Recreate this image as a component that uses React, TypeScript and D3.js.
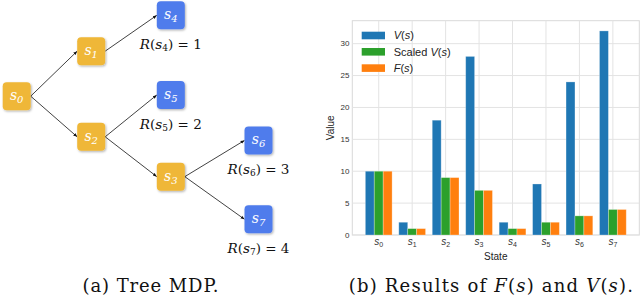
import React from "react";
import * as d3 from "d3";

// bar chart data
const states = ["0", "1", "2", "3", "4", "5", "6", "7"];
const vValues = [10, 2, 18, 28, 2, 8, 24, 32];
const scaledV = [10, 1, 9, 7, 1, 2, 3, 4];
const fValues = [10, 1, 9, 7, 1, 2, 3, 4];
const yTicks = [0, 5, 10, 15, 20, 25, 30];

// tree MDP data
const nodeIds = ["0", "1", "2", "3", "4", "5", "6", "7"];
const nodeDepth = [0, 1, 1, 2, 2, 2, 3, 3];
const nodeRow = [2.03, 0.9, 3.05, 4.05, 0, 2, 3.14, 5.12];
const edges: [number, number][] = [[0, 1], [0, 2], [1, 4], [2, 5], [2, 3], [3, 6], [3, 7]];
const rewardNodes = [4, 5, 6, 7];
const rewards = [1, 2, 3, 4];

const series = [
  { name: "V", values: vValues, color: "#1f77b4" },
  { name: "Scaled V", values: scaledV, color: "#2ca02c" },
  { name: "F", values: fValues, color: "#ff7f0e" },
];

const SANS = "'Liberation Sans', Arial, sans-serif";
const SERIF = "'DejaVu Serif', serif";

function Tree() {
  const x = d3.scaleOrdinal<number, number>().domain([0, 1, 2, 3]).range([16.7, 91.2, 170.8, 258.5]);
  const y = d3.scaleLinear().domain([0, 5]).range([15.3, 214.5]);
  const half = 14;
  const pos = nodeIds.map((_, i) => ({ cx: x(nodeDepth[i]), cy: y(nodeRow[i]) }));

  return (
    <g>
      <defs>
        <marker id="arr" viewBox="0 0 10 10" refX="10" refY="5" markerWidth="5" markerHeight="5" orient="auto">
          <path d="M0,1 L10,5 L0,9 z" fill="#111" />
        </marker>
        <filter id="shadow" x="-20%" y="-20%" width="150%" height="150%">
          <feDropShadow dx="1" dy="1.2" stdDeviation="0.9" floodColor="#000" floodOpacity="0.3" />
        </filter>
      </defs>
      {edges.map(([a, b], i) => (
        <line
          key={i}
          x1={pos[a].cx + half}
          y1={pos[a].cy}
          x2={pos[b].cx - half}
          y2={pos[b].cy}
          stroke="#111"
          strokeWidth={0.8}
          markerEnd="url(#arr)"
        />
      ))}
      {nodeIds.map((id, i) => (
        <g key={id}>
          <rect
            x={pos[i].cx - half}
            y={pos[i].cy - half}
            width={half * 2}
            height={half * 2}
            rx={4}
            fill={nodeDepth[i] >= 2 && i !== 3 ? "#4f7cec" : "#efb737"}
            filter="url(#shadow)"
          />
          <text x={pos[i].cx} y={pos[i].cy + 4} textAnchor="middle" fill="#fff" fontFamily={SERIF} fontSize={14} fontStyle="italic">
            s<tspan fontSize={10} dy={3}>{id}</tspan>
          </text>
        </g>
      ))}
      {rewardNodes.map((n, i) => (
        <text key={n} x={pos[n].cx} y={pos[n].cy + half + 20} textAnchor="middle" fill="#111" fontFamily={SERIF} fontSize={13.5}>
          <tspan fontStyle="italic">R</tspan>(<tspan fontStyle="italic">s</tspan>
          <tspan fontSize={9} dy={2}>{nodeIds[n]}</tspan>
          <tspan dy={-2}>) = {rewards[i]}</tspan>
        </text>
      ))}
      <text x={151} y={292} textAnchor="middle" fontFamily={SERIF} fontSize={18} letterSpacing={0.9} fill="#111">
        (a) Tree MDP.
      </text>
    </g>
  );
}

function Bars() {
  const left = 352.3;
  const right = 639.3;
  const top = 20.7;
  const bottom = 235;
  const x = d3.scaleLinear().domain([-0.79, 7.79]).range([left, right]);
  const y = d3.scaleLinear().domain([0, 33.6]).range([bottom, top]);
  const bw = 0.8 / 3;
  const grid = "#e3e3e3";

  return (
    <g>
      <rect x={left} y={top} width={right - left} height={bottom - top} fill="#fff" stroke="#d9d9d9" strokeWidth={1} />
      {yTicks.map((t) => (
        <line key={"gy" + t} x1={left} x2={right} y1={y(t)} y2={y(t)} stroke={grid} strokeWidth={1} />
      ))}
      {states.map((_, i) => (
        <line key={"gx" + i} x1={x(i)} x2={x(i)} y1={top} y2={bottom} stroke={grid} strokeWidth={1} />
      ))}
      {series.map((s, k) =>
        s.values.map((v, i) => (
          <rect
            key={s.name + i}
            x={x(i + (k - 1) * bw - bw / 2)}
            y={y(v)}
            width={x(bw) - x(0)}
            height={bottom - y(v)}
            fill={s.color}
            stroke="#fff"
            strokeOpacity={0.35}
            strokeWidth={0.8}
          />
        ))
      )}
      {yTicks.map((t) => (
        <text key={"ty" + t} x={349.5} y={y(t) + 2.8} textAnchor="end" fontFamily={SANS} fontSize={8} fill="#333">
          {t}
        </text>
      ))}
      {states.map((s, i) => (
        <text key={"tx" + i} x={x(i)} y={245} textAnchor="middle" fontFamily={SANS} fontSize={10} fill="#333" fontStyle="italic">
          s<tspan fontSize={7} dy={1.5} fontStyle="normal">{s}</tspan>
        </text>
      ))}
      <text x={(left + right) / 2} y={260} textAnchor="middle" fontFamily={SANS} fontSize={10} fill="#222">
        State
      </text>
      <text transform={`translate(333.5,${(top + bottom) / 2}) rotate(-90)`} textAnchor="middle" fontFamily={SANS} fontSize={10} fill="#222">
        Value
      </text>
      {series.map((s, k) => (
        <g key={"lg" + k} transform={`translate(361.7,${35.5 + k * 16.3})`}>
          <rect x={0} y={-3.8} width={23.3} height={7.6} fill={s.color} />
          <text x={32} y={3.8} fontFamily={SANS} fontSize={11} fill="#222">
            {s.name === "Scaled V" ? "Scaled " : ""}
            <tspan fontStyle="italic">{s.name === "F" ? "F" : "V"}</tspan>(<tspan fontStyle="italic">s</tspan>)
          </text>
        </g>
      ))}
      <text x={491.5} y={292} textAnchor="middle" fontFamily={SERIF} fontSize={18} letterSpacing={1.2} fill="#111">
        (b) Results of <tspan fontStyle="italic">F</tspan>(<tspan fontStyle="italic">s</tspan>) and{" "}
        <tspan fontStyle="italic">V</tspan>(<tspan fontStyle="italic">s</tspan>).
      </text>
    </g>
  );
}

export default function App() {
  return (
    <svg width={640} height={299} style={{ position: "fixed", left: 0, top: 0, background: "#fff" }}>
      <rect width={640} height={299} fill="#fff" />
      <Tree />
      <Bars />
    </svg>
  );
}
